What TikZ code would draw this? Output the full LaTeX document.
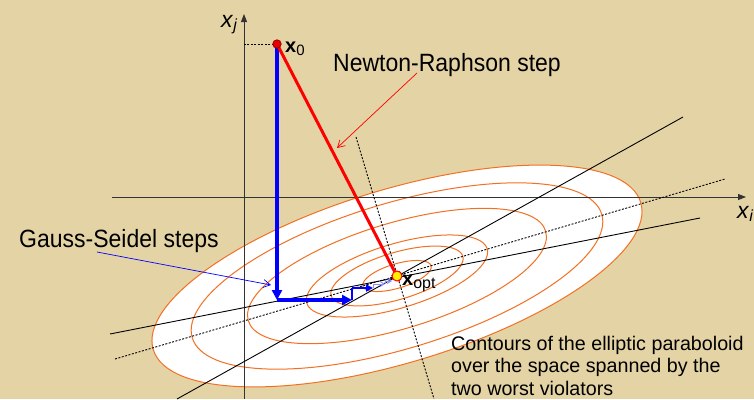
\documentclass[tikz,border=0pt]{standalone}
\usepackage{fontspec}
\setmainfont{Liberation Sans}
\newfontfamily\narrowfont{Liberation Sans}[FakeStretch=0.92]
\usetikzlibrary{arrows.meta,calc}
\definecolor{parchment}{RGB}{228,212,165}
\definecolor{contour}{RGB}{242,112,34}
\definecolor{lightstep}{RGB}{140,140,255}
\definecolor{dotred}{RGB}{230,0,0}

\begin{document}
\begin{tikzpicture}[x=1pt, y=-1pt,
    contourline/.style={draw=contour, line width=1pt},
    ridge/.style={black, line width=0.9pt},
    ridgedot/.style={black, line width=0.9pt, dash pattern=on 2pt off 1.5pt},
    axisline/.style={black!80, line width=0.9pt, -{Triangle[length=8pt,width=6pt]}},
    nrstep/.style={red, line width=3pt, -{Triangle[length=10pt,width=9pt]}},
    gsstep/.style={blue, line width=3.2pt, -{Triangle[length=10pt,width=10pt]}},
    gssmall/.style={blue, line width=2pt, -{Triangle[length=7pt,width=7pt]}},
    gstiny/.style={lightstep, line width=0.9pt, -{Straight Barb[length=4pt,width=5pt]}},
    pointer/.style={line width=0.7pt, -{Straight Barb[length=7pt,width=8pt]}},
    bigtext/.style={font=\narrowfont\fontsize{25}{28}\selectfont, inner sep=0pt, anchor=base west},
    vartext/.style={font=\fontsize{23}{26}\selectfont, inner sep=0pt, anchor=base west},
    ptext/.style={font=\bfseries\fontsize{20}{22}\selectfont, inner sep=0pt, anchor=base west}]
    % Background and frame
    \fill[parchment] (0,0) rectangle (754,399);
    \useasboundingbox (0,0) rectangle (754,399);
    \clip (0,0) rectangle (754,399);

    % Key points
    \coordinate (xopt) at (397,276);
    \coordinate (x0) at (277,44);

    % Contours of the paraboloid
    \fill[white, rotate around={16.8:(xopt)}] (xopt) ellipse [x radius=254.6, y radius=86.7];
    \foreach \s in {1,0.84,0.61,0.37,0.27,0.14} {
        \draw[contourline, rotate around={16.8:(xopt)}] (xopt) ellipse [x radius=254.6*\s, y radius=86.7*\s];
    }

    % Axes
    \coordinate (hleft) at (112,197);
    \coordinate (hright) at (746,197);
    \coordinate (vbottom) at (244,399);
    \coordinate (vtop) at (244,14);
    \draw[axisline] (hleft) -- (hright);
    \draw[axisline] (vbottom) -- (vtop);
    \node[vartext] (xi) at (737,218) {\textit{x}\textsubscript{\textit{i}}};
    \node[vartext] (xj) at (221,27) {\textit{x}\textsubscript{\textit{j}}};

    % Lines through the optimum
    \coordinate (ra) at (177,399);
    \coordinate (rb) at (683,117);
    \coordinate (sa) at (110,334);
    \coordinate (sb) at (700,218);
    \coordinate (da) at (115,359);
    \coordinate (db) at (725,179);
    \coordinate (pa) at (356,137);
    \coordinate (pb) at (434,399);
    \draw[ridge] (ra) -- (rb);
    \draw[ridge] (sa) -- (sb);
    \draw[ridgedot] (da) -- (db);
    \draw[ridgedot] (pa) -- (pb);
    \draw[black, line width=0.8pt, dash pattern=on 2pt off 1.5pt] (x0) -- (x0 -| vtop);

    % Gauss-Seidel steps
    \coordinate (gs1) at (277,300);
    \coordinate (gs2) at (352,300);
    \coordinate (gs3) at (352,288);
    \coordinate (gs4) at (373,288);
    \coordinate (gs5) at (373,284);
    \coordinate (gs6) at (385,284);
    \coordinate (gs7) at (385,281);
    \coordinate (gs8) at (392,281);
    \draw[gsstep] (x0) -- (gs1);
    \draw[gsstep] (gs1) -- (gs2);
    \draw[blue, line width=2pt] (gs2) -- (gs3);
    \draw[gssmall] (gs3) -- (gs4);
    \draw[lightstep, line width=0.9pt] (gs4) -- (gs5);
    \draw[gstiny] (gs5) -- (gs6);
    \draw[lightstep, line width=0.9pt] (gs6) -- (gs7);
    \draw[gstiny] (gs7) -- (gs8);

    % Newton-Raphson step
    \coordinate (nrtip) at (400,282);
    \draw[nrstep] (x0) -- (nrtip);
    \fill[yellow, draw=red, line width=1pt] (xopt) circle (5);
    \fill[dotred, draw=red!60!black, line width=0.8pt] (x0) circle (4.2);
    \node[ptext] (x0lab) at (285,52) {x\textsubscript{\mdseries\fontsize{15}{16}\selectfont 0}};
    \node[ptext] (xoptlab) at (402,285) {x\textsubscript{\mdseries\fontsize{16}{17}\selectfont opt}};

    % Labels and pointers
    \node[bigtext] (nr) at (333,71) {Newton-Raphson step};
    \node[bigtext] (gs) at (19,247) {Gauss-Seidel steps};
    \coordinate (nrfrom) at (417,73);
    \coordinate (nrto) at (337,148);
    \coordinate (gsfrom) at (97,252);
    \coordinate (gsto) at (271,285);
    \draw[pointer, red] (nrfrom) -- (nrto);
    \draw[pointer, blue] (gsfrom) -- (gsto);
    \node[font=\fontsize{19.7}{22.5}\selectfont, inner sep=0pt, anchor=base west, align=left] (contours) at (451,395)
        {Contours of the elliptic paraboloid\\over the space spanned by the\\two worst violators};
\end{tikzpicture}
\end{document}
